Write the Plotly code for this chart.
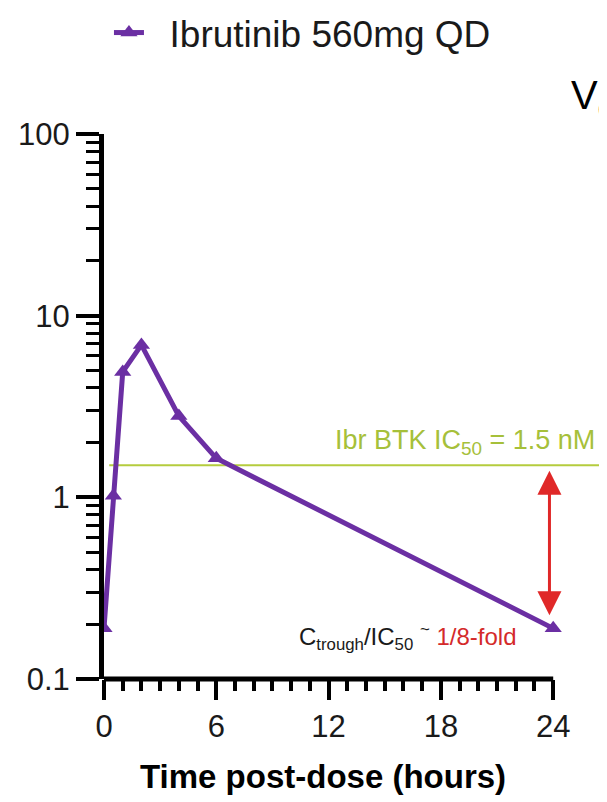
import numpy as np
import plotly.graph_objects as go

# ---- data ----
time_h = [0, 0.5, 1, 2, 4, 6, 24]
conc_nM = [0.19, 1.02, 4.9, 6.9, 2.8, 1.64, 0.19]
series_name = "Ibrutinib 560mg QD"
ic50_nM = 1.5
ic50_x = [0.28, 26.5]
x_ticks = [0, 6, 12, 18, 24]
x_minor = [h for h in range(1, 24) if h % 6 != 0]
y_ticks = [0.1, 1, 10, 100]
y_ticktext = ["0.1", "1", "10", "100"]
y_minor = [m * 10.0 ** e for e in (-1, 0, 1) for m in range(2, 10)]
x_title = "Time post-dose (hours)"

PURPLE = "#6B2FA3"
GREEN = "#B5CC3E"
GREEN_TXT = "#A6C03A"
RED = "#E02828"
FONT = "Liberation Sans, Arial, sans-serif"

# page body has an 8px margin; layout below is expressed so the plot lands where the reference has it
L, T, W, H = 96, 126, 496, 545

fig = go.Figure()

fig.add_trace(go.Scatter(
    x=ic50_x, y=[ic50_nM, ic50_nM], mode="lines",
    line=dict(color=GREEN, width=2), showlegend=False, hoverinfo="skip"))

fig.add_trace(go.Scatter(
    x=time_h, y=conc_nM, mode="lines+markers", name="\u00a0\u00a0" + series_name,
    line=dict(color=PURPLE, width=5),
    marker=dict(symbol="triangle-up", size=15, color=PURPLE)))

fig.update_layout(
    width=607, height=802,
    margin=dict(l=L, r=607 - L - W, t=T, b=802 - T - H, autoexpand=False),
    paper_bgcolor="white", plot_bgcolor="white",
    font=dict(family=FONT, color="#1a1a1a"),
    showlegend=True,
    legend=dict(orientation="h", x=0.01, xanchor="left", y=(545 + 101) / 545,
                yanchor="middle", itemwidth=30,
                font=dict(size=37, color="#1a1a1a"), bgcolor="rgba(0,0,0,0)"),
    xaxis=dict(range=[0, 26.5], showline=False, zeroline=False, showgrid=False,
               tickmode="array", tickvals=x_ticks, ticks="outside", ticklen=20,
               tickwidth=4, tickcolor="black",
               tickfont=dict(size=31, family=FONT, color="#1a1a1a"),
               minor=dict(tickmode="array", tickvals=x_minor, ticks="outside",
                          ticklen=11, tickwidth=4, tickcolor="black", showgrid=False)),
    yaxis=dict(type="log", range=[-1, 2], showline=True, linewidth=5, linecolor="black",
               zeroline=False, showgrid=False,
               tickmode="array", tickvals=y_ticks, ticktext=y_ticktext,
               ticks="outside", ticklen=23, tickwidth=4, tickcolor="black",
               tickfont=dict(size=31, family=FONT, color="#1a1a1a"),
               minor=dict(tickmode="array", tickvals=y_minor, ticks="outside",
                          ticklen=13, tickwidth=3, tickcolor="black", showgrid=False)),
)

# x-axis line (only spans 0..24)
fig.add_shape(type="line", xref="x", yref="paper", x0=x_ticks[0], x1=x_ticks[-1],
              y0=0, y1=0, line=dict(color="black", width=5), layer="above")

# IC50 label
fig.add_annotation(xref="x", yref="y", x=26.35, y=np.log10(ic50_nM), xanchor="right",
                   yanchor="bottom", yshift=4, showarrow=False,
                   text="Ibr BTK IC<sub>50</sub> = 1.5 nM",
                   font=dict(size=27, color=GREEN_TXT, family=FONT))

# double arrow between IC50 and trough
fig.add_annotation(xref="x", yref="y", axref="x", ayref="y",
                   x=23.8, y=np.log10(conc_nM[-1]), ax=23.8, ay=np.log10(ic50_nM),
                   text="", showarrow=True, arrowside="end+start", arrowhead=2,
                   arrowsize=1.6, arrowwidth=3, arrowcolor=RED,
                   standoff=13, startstandoff=4)

# ratio text
fig.add_annotation(xref="paper", yref="paper", x=(408 - 104) / W, y=(679 - 637) / H,
                   xanchor="center", yanchor="middle", showarrow=False,
                   text="C<sub>trough</sub>/IC<sub>50</sub> <sup>~</sup> "
                        "<span style='color:#D42A2A'>1/8-fold</span>",
                   font=dict(size=24, color="#1a1a1a", family=FONT))

# V_d text at the top right
fig.add_annotation(xref="paper", yref="paper", x=(569 - 104) / W, y=(679 - 98) / H,
                   xanchor="left", yanchor="middle", showarrow=False,
                   text="V<sub>d</sub>", font=dict(size=40, color="black", family=FONT))

# x-axis title
fig.add_annotation(xref="paper", yref="paper", x=(323 - 104) / W, y=(679 - 776) / H,
                   xanchor="center", yanchor="middle", showarrow=False,
                   text="<b>" + x_title + "</b>",
                   font=dict(size=33, color="black", family=FONT))

fig.write_html("out.html")
